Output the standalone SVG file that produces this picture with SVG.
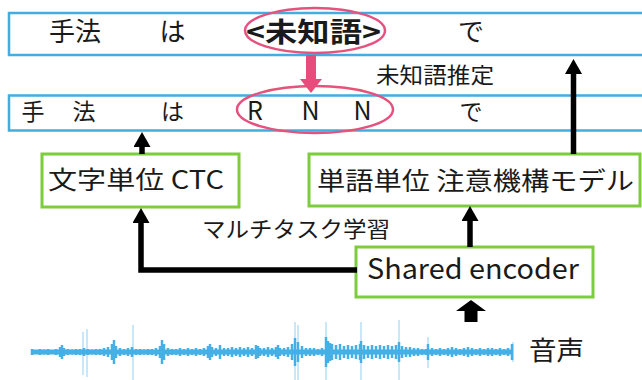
<svg xmlns="http://www.w3.org/2000/svg" width="642" height="380" viewBox="0 0 642 380">
<style>
text{font-family:"Noto Sans CJK JP","Noto Sans",sans-serif;fill:#1a1a1a}
.blue{fill:#fff;stroke:#41ade0;stroke-width:2.5}
.green{fill:#fff;stroke:#7dcc3e;stroke-width:3}
.pink{fill:none;stroke:#e5527f;stroke-width:2.5}
.conn{fill:none;stroke:#000;stroke-width:5.5;stroke-linejoin:miter}
.wave{fill:none;stroke:#45b0e6;stroke-width:2.5}
.spike{fill:none;stroke:#45b0e6;stroke-width:1.3;opacity:.45}
</style>
<defs>
<marker id="ah" markerUnits="userSpaceOnUse" markerWidth="16" markerHeight="17" refX="0" refY="8.5" orient="auto">
<path d="M0,0 L15,8.5 L0,17 z" fill="#000"/>
</marker>
<marker id="ahp" markerUnits="userSpaceOnUse" markerWidth="15" markerHeight="22" refX="0" refY="11" orient="auto">
<path d="M0,0 L14,11 L0,22 z" fill="#e84c7c"/>
</marker>
</defs>

<g id="row-top">
<rect class="blue" x="9" y="13" width="640" height="42"/>
<text x="75" y="41" font-size="26" text-anchor="middle">手法</text>
<text x="172.5" y="41" font-size="26" text-anchor="middle">は</text>
<text x="246" y="41.5" font-size="27" font-weight="bold" textLength="135" lengthAdjust="spacingAndGlyphs">&lt;未知語&gt;</text>
<text x="471" y="41" font-size="26" text-anchor="middle">で</text>
<ellipse class="pink" cx="315" cy="30.5" rx="70" ry="22.5"/>
</g>

<g id="row-rnn">
<rect class="blue" x="9" y="95.5" width="640" height="35"/>
<text x="33" y="120" font-size="23" text-anchor="middle">手</text>
<text x="84" y="120" font-size="23" text-anchor="middle">法</text>
<text x="172.5" y="120" font-size="23" text-anchor="middle">は</text>
<text x="255" y="120" font-size="25" text-anchor="middle">R</text>
<text x="310.5" y="120" font-size="25" text-anchor="middle">N</text>
<text x="362.5" y="120" font-size="25" text-anchor="middle">N</text>
<text x="471" y="120" font-size="23" text-anchor="middle">で</text>
<ellipse class="pink" cx="315" cy="109.5" rx="78" ry="23.5"/>
</g>

<g id="label-estimate">
<text x="376" y="83" font-size="22" textLength="118" lengthAdjust="spacingAndGlyphs">未知語推定</text>
</g>

<g id="ctc">
<rect class="green" x="42" y="154" width="197" height="53"/>
<text x="48" y="189" font-size="25" textLength="176" lengthAdjust="spacingAndGlyphs">文字単位 CTC</text>
</g>

<g id="attention">
<rect class="green" x="309" y="154" width="331" height="52"/>
<text x="317" y="190" font-size="25" textLength="317" lengthAdjust="spacingAndGlyphs">単語単位 注意機構モデル</text>
</g>

<g id="label-multitask">
<text x="202" y="237" font-size="22" textLength="188" lengthAdjust="spacingAndGlyphs">マルチタスク学習</text>
</g>

<g id="encoder">
<rect class="green" x="356" y="247" width="237" height="50"/>
<text x="367" y="279" font-size="28" textLength="212" lengthAdjust="spacingAndGlyphs">Shared encoder</text>
</g>

<g id="audio">
<rect x="32" y="349.5" width="481" height="5" fill="#45b0e6"/>
<path class="wave" d="M32 349v6M36 350v4M40 349v6M44 349.5v5M48 349v6M52 350v4M56 349v6M60 347v10M62 345v14M64 348v8M68 349v6M72 349.5v5M76 349v6M80 349v6M84 348v8M88 349v6M92 349.5v5M96 349v6M100 349v6M104 348v8M108 347v10M112 344v16M114 340v24M116 346v12M120 348v8M124 349v6M128 348v8M132 347v10M136 349v6M140 349v6M144 349.5v5M148 349v6M152 349v6M156 348v8M160 346v12M162 340v24M164 344v16M168 348v8M172 349v6M176 349v6M180 348v8M184 349v6M188 348v8M192 349v6M196 348v8M200 349v6M204 348v8M208 346v12M210 344v16M212 347v10M216 348v8M220 345v14M224 348v8M228 348v8M232 347v10M236 348v8M240 347v10M244 348v8M248 347v10M252 348v8M256 345v14M258 346v12M260 348v8M264 348v8M268 347v10M272 348v8M276 347v10M278 345v14M280 348v8M284 348v8M288 347v10M292 344v16M295 338v28M298 342v20M302 346v12M306 348v8M310 348v8M314 348v8M318 349v6M322 348v8M326 337v30M328 341v22M330 343v18M332 344v16M336 345v14M340 344v16M344 346v12M348 345v14M352 346v12M356 345v14M360 344v16M361 341v22M364 345v14M368 346v12M372 345v14M376 346v12M380 345v14M384 346v12M388 345v14M392 346v12M396 345v14M399 342v20M402 346v12M406 347v10M410 347v10M414 348v8M418 348v8M422 349v6M426 349v6M428 344v16M432 348v8M436 349v6M440 348v8M444 349v6M448 348v8M452 347v10M456 348v8M460 349v6M464 348v8M468 347v10M472 348v8M476 349v6M480 348v8M484 349v6M488 348v8M492 348v8M496 349v6M500 348v8M504 349v6M508 348v8M512 344v16"/>
<path class="spike" d="M83 332V375M87 329V377M133 325V380M295 322V380M298 325V380M326 322V380M361 322V380M399 320V380M428 337V368M513 342V362"/>
<text x="529" y="360" font-size="26" textLength="55" lengthAdjust="spacingAndGlyphs">音声</text>
</g>

<g id="connectors">
<path d="M311 55V79" fill="none" stroke="#e84c7c" stroke-width="10" marker-end="url(#ahp)"/>
<path class="conn" d="M573.5 154V74" marker-end="url(#ah)"/>
<path class="conn" d="M142 154V147" marker-end="url(#ah)"/>
<path class="conn" d="M357 270H141V223" marker-end="url(#ah)"/>
<path class="conn" d="M470 247V221" marker-end="url(#ah)"/>
<polygon points="471,300 486,311 477.5,311 477.5,322 464.5,322 464.5,311 456,311" fill="#000"/>
</g>
</svg>
